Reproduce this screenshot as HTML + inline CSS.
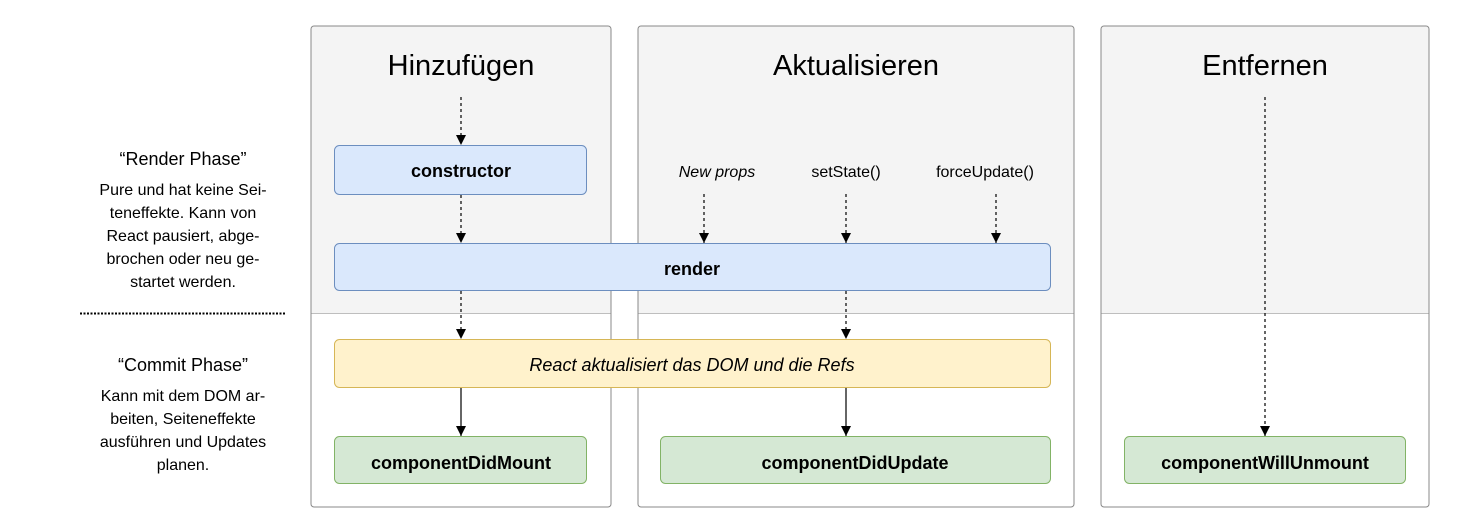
<!DOCTYPE html>
<html><head><meta charset="utf-8"><style>
html,body{margin:0;padding:0;background:#fff;}
svg{display:block;font-family:"Liberation Sans",sans-serif;}
</style></head><body>
<svg width="1474" height="522" viewBox="0 0 1474 522" xmlns="http://www.w3.org/2000/svg">
<defs>
<marker id="ah" viewBox="0 0 10 10" refX="10" refY="5" markerWidth="10" markerHeight="10" markerUnits="userSpaceOnUse" orient="auto">
<path d="M0,0 L10,5 L0,10 z" fill="#000"/>
</marker>
</defs>
<g stroke="#888" stroke-width="1">
<path d="M311,314 V29 a3,3 0 0 1 3,-3 H608 a3,3 0 0 1 3,3 V314 z" fill="#f4f4f4"/>
<path d="M311,314 V504 a3,3 0 0 0 3,3 H608 a3,3 0 0 0 3,-3 V314" fill="#fff"/>
<path d="M638,314 V29 a3,3 0 0 1 3,-3 H1071 a3,3 0 0 1 3,3 V314 z" fill="#f4f4f4"/>
<path d="M638,314 V504 a3,3 0 0 0 3,3 H1071 a3,3 0 0 0 3,-3 V314" fill="#fff"/>
<path d="M1101,314 V29 a3,3 0 0 1 3,-3 H1426 a3,3 0 0 1 3,3 V314 z" fill="#f4f4f4"/>
<path d="M1101,314 V504 a3,3 0 0 0 3,3 H1426 a3,3 0 0 0 3,-3 V314" fill="#fff"/>
</g>
<g font-size="29" text-anchor="middle" fill="#000">
<text x="461" y="75">Hinzufügen</text>
<text x="856" y="75">Aktualisieren</text>
<text x="1265" y="75">Entfernen</text>
</g>
<rect x="334.5" y="145.5" width="252" height="49" rx="5" fill="#dae8fc" stroke="#6c8ebf"/>
<rect x="334.5" y="243.5" width="716" height="47" rx="5" fill="#dae8fc" stroke="#6c8ebf"/>
<rect x="334.5" y="339.5" width="716" height="48" rx="5" fill="#fff2cc" stroke="#d6b656"/>
<rect x="334.5" y="436.5" width="252" height="47" rx="5" fill="#d5e8d4" stroke="#82b366"/>
<rect x="660.5" y="436.5" width="390" height="47" rx="5" fill="#d5e8d4" stroke="#82b366"/>
<rect x="1124.5" y="436.5" width="281" height="47" rx="5" fill="#d5e8d4" stroke="#82b366"/>
<g font-size="18" font-weight="bold" text-anchor="middle" fill="#000">
<text x="461" y="177">constructor</text>
<text x="692" y="275">render</text>
<text x="461" y="469">componentDidMount</text>
<text x="855" y="469">componentDidUpdate</text>
<text x="1265" y="469">componentWillUnmount</text>
</g>
<text x="692" y="371" font-size="18" font-style="italic" text-anchor="middle">React aktualisiert das DOM und die Refs</text>
<g font-size="16" text-anchor="middle" fill="#000">
<text x="717" y="177" font-style="italic">New props</text>
<text x="846" y="177">setState()</text>
<text x="985" y="177">forceUpdate()</text>
</g>
<g stroke="#000" stroke-width="1.2" marker-end="url(#ah)" fill="none">
<line x1="461" y1="97" x2="461" y2="145" stroke-dasharray="3,3"/>
<line x1="461" y1="195" x2="461" y2="243" stroke-dasharray="3,3"/>
<line x1="461" y1="291" x2="461" y2="339" stroke-dasharray="3,3"/>
<line x1="461" y1="388" x2="461" y2="436"/>
<line x1="704" y1="194" x2="704" y2="243" stroke-dasharray="3,3"/>
<line x1="846" y1="194" x2="846" y2="243" stroke-dasharray="3,3"/>
<line x1="996" y1="194" x2="996" y2="243" stroke-dasharray="3,3"/>
<line x1="846" y1="291" x2="846" y2="339" stroke-dasharray="3,3"/>
<line x1="846" y1="388" x2="846" y2="436"/>
<line x1="1265" y1="97" x2="1265" y2="436" stroke-dasharray="3,3"/>
</g>
<g text-anchor="middle" fill="#000">
<text x="183" y="165" font-size="18">“Render Phase”</text>
<g font-size="16">
<text x="183" y="195">Pure und hat keine Sei-</text>
<text x="183" y="218">teneffekte. Kann von</text>
<text x="183" y="241">React pausiert, abge-</text>
<text x="183" y="264">brochen oder neu ge-</text>
<text x="183" y="287">startet werden.</text>
</g>
<text x="183" y="371" font-size="18">“Commit Phase”</text>
<g font-size="16">
<text x="183" y="401">Kann mit dem DOM ar-</text>
<text x="183" y="424">beiten, Seiteneffekte</text>
<text x="183" y="447">ausführen und Updates</text>
<text x="183" y="470">planen.</text>
</g>
</g>
<line x1="80" y1="313.5" x2="285" y2="313.5" stroke="#000" stroke-width="2" stroke-dasharray="2,1.5"/>
</svg>
</body></html>
